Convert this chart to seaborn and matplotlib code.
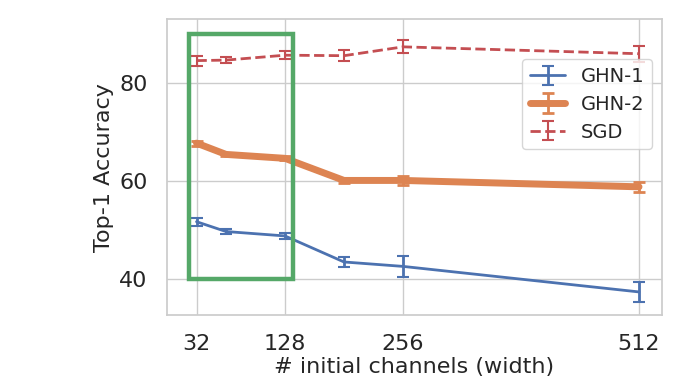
import matplotlib
matplotlib.use("Agg")
import matplotlib.pyplot as plt
import seaborn as sns
from matplotlib.patches import Rectangle

widths = [32, 64, 128, 192, 256, 512]
tick_widths = [32, 128, 256, 512]

ghn1 = [51.7, 49.7, 48.8, 43.5, 42.6, 37.4]
ghn1_err = [0.8, 0.5, 0.7, 1.0, 2.1, 2.0]
ghn2 = [67.7, 65.4, 64.6, 60.1, 60.1, 58.8]
ghn2_err = [0.5, 0.3, 0.4, 0.5, 1.0, 1.0]
sgd = [84.5, 84.6, 85.6, 85.5, 87.3, 85.9]
sgd_err = [1.0, 0.6, 0.8, 1.1, 1.3, 1.6]

sns.set_theme(style="whitegrid")
pal = sns.color_palette("deep")

fig = plt.figure(figsize=(6.8, 3.83), dpi=100)
ax = fig.add_axes([0.2456, 0.1775, 0.728, 0.772])

ax.errorbar(widths, ghn1, yerr=ghn1_err, color=pal[0], lw=2, capsize=4,
            elinewidth=2, capthick=1.5, label="GHN-1")
ax.errorbar(widths, ghn2, yerr=ghn2_err, color=pal[1], lw=5, capsize=4,
            elinewidth=2, capthick=2, label="GHN-2")
ax.errorbar(widths, sgd, yerr=sgd_err, color=pal[3], lw=2, ls="--",
            capsize=4, elinewidth=1.5, capthick=1.5, label="SGD")

# highlight of the small-width region
ax.add_patch(Rectangle((24, 40), 113, 50, fill=False, edgecolor=pal[2], lw=3.2, zorder=5))

ax.set_xlim(0, 537)
ax.set_ylim(32.7, 92.9)
ax.set_xticks(tick_widths)
ax.set_yticks([40, 60, 80])
ax.tick_params(axis="both", labelsize=16, pad=8)
ax.set_xlabel("# initial channels (width)", fontsize=16, labelpad=2)
ax.set_ylabel("Top-1 Accuracy", fontsize=16)

ax.legend(loc="upper right", bbox_to_anchor=(0.98, 0.865), borderaxespad=0,
          fontsize=14, handlelength=1.8, labelspacing=0.45)

fig.savefig("out.png", dpi=100)
